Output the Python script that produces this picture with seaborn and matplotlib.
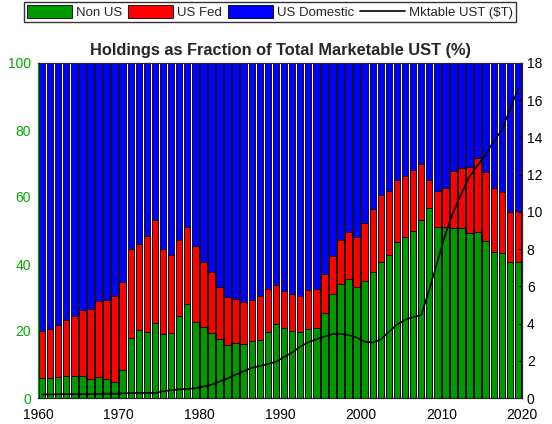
import numpy as np
import pandas as pd
import seaborn as sns
import matplotlib
matplotlib.use("Agg")
import matplotlib.pyplot as plt
from matplotlib.patches import Patch
from matplotlib.lines import Line2D

sns.set_style("white")
plt.rcParams["font.family"] = ["Liberation Sans", "DejaVu Sans"]

# =============================
# DADOS
# =============================
anos = list(range(1960, 2020))

non_us = [5.9, 5.9, 6.4, 6.6, 6.6, 6.6, 5.6, 6.3, 5.8, 4.8,
          8.5, 17.9, 20.2, 19.8, 22.4, 19.2, 19.4, 24.6, 28.0, 22.6,
          21.1, 19.3, 17.5, 15.8, 16.4, 16.0, 16.9, 17.4, 19.6, 22.0,
          20.9, 20.1, 19.6, 20.5, 20.8, 25.3, 31.0, 34.1, 35.5, 33.0,
          35.0, 37.5, 40.7, 42.8, 46.6, 48.1, 49.8, 53.2, 56.8, 51.0,
          51.0, 50.7, 50.7, 49.3, 49.6, 47.0, 43.5, 43.3, 40.6, 40.6]

us_fed = [14.2, 14.8, 15.3, 16.7, 17.8, 19.6, 21.0, 22.7, 23.5, 25.5,
          26.1, 26.5, 25.9, 28.6, 30.6, 25.4, 23.3, 22.7, 23.0, 22.7,
          19.6, 18.3, 15.6, 14.4, 13.1, 12.6, 12.4, 12.9, 12.8, 11.6,
          11.1, 11.0, 10.9, 11.6, 11.8, 11.7, 11.5, 13.0, 14.1, 15.0,
          17.3, 18.9, 19.9, 18.9, 18.4, 18.2, 18.4, 16.6, 8.4, 10.8,
          11.6, 17.0, 18.0, 19.7, 22.0, 20.4, 19.2, 18.3, 14.9, 15.2]

mktable_ust = [0.19, 0.19, 0.20, 0.21, 0.21, 0.21, 0.21, 0.21, 0.23, 0.23,
               0.25, 0.26, 0.27, 0.27, 0.27, 0.36, 0.42, 0.46, 0.49, 0.52,
               0.62, 0.72, 0.88, 1.05, 1.25, 1.44, 1.62, 1.72, 1.82, 1.95,
               2.20, 2.45, 2.75, 3.00, 3.15, 3.30, 3.43, 3.45, 3.38, 3.25,
               3.03, 2.98, 3.15, 3.55, 3.95, 4.20, 4.35, 4.45, 5.80, 7.30,
               8.80, 10.0, 11.0, 11.9, 12.5, 13.1, 13.8, 14.4, 15.5, 16.6]

df = pd.DataFrame({"ano": anos, "non_us": non_us, "us_fed": us_fed, "ust": mktable_ust})
df["us_dom"] = 100 - df["non_us"] - df["us_fed"]
df["x"] = df["ano"] + 0.5  # barra ocupa o ano inteiro
df["topo_fed"] = df["non_us"] + df["us_fed"]
df["topo_dom"] = df["topo_fed"] + df["us_dom"]

verde = "#009900"
vermelho = "#ff0000"
azul = "#0000ff"

# =============================
# PLOT
# =============================
fig = plt.figure(figsize=(5.52, 4.24), dpi=100)
ax = fig.add_axes([38 / 552, 26 / 424, 484 / 552, 335 / 424])

# barras empilhadas (sobrepostas, da maior para a menor)
for col, cor in [("topo_dom", azul), ("topo_fed", vermelho), ("non_us", verde)]:
    sns.barplot(data=df, x="x", y=col, native_scale=True, color=cor,
                saturation=1, width=0.8, edgecolor="black", linewidth=0.6, ax=ax)

ax.set_xlim(1960, 2020)
ax.set_ylim(0, 100)
ax.set_xticks(range(1960, 2021, 10))
ax.set_yticks(range(0, 101, 20))
ax.set_xlabel("")
ax.set_ylabel("")
ax.tick_params(axis="y", colors="#00aa00", direction="in", labelsize=10, length=3, pad=5)
ax.tick_params(axis="x", direction="in", labelsize=10, length=3, colors="black", pad=7)
ax.spines["left"].set_color("#00aa00")
for s in ax.spines.values():
    s.set_linewidth(0.8)

ax2 = ax.twinx()
sns.lineplot(data=df, x="x", y="ust", color="black", linewidth=1.2, ax=ax2)
ax2.set_ylim(0, 18)
ax2.set_yticks(range(0, 19, 2))
ax2.set_ylabel("")
ax2.tick_params(axis="y", direction="in", labelsize=10, length=3, colors="black")
ax2.spines["left"].set_color("#00aa00")
for s in ax2.spines.values():
    s.set_linewidth(0.8)

ax.set_title("Holdings as Fraction of Total Marketable UST (%)",
             fontsize=11.8, fontweight="bold", pad=6)

handles = [Patch(facecolor=verde, edgecolor="black", linewidth=0.6),
           Patch(facecolor=vermelho, edgecolor="black", linewidth=0.6),
           Patch(facecolor=azul, edgecolor="black", linewidth=0.6),
           Line2D([0], [0], color="black", linewidth=1.2)]
fig.legend(handles, ["Non US", "US Fed", "US Domestic", "Mktable UST ($T)"],
           loc="upper left", bbox_to_anchor=(24 / 552, 1 - 2 / 424), ncol=4,
           fontsize=9.5, frameon=True, fancybox=False, edgecolor="black",
           handlelength=3.4, handleheight=1.1, handletextpad=0.3,
           columnspacing=0.45, borderpad=0.25, borderaxespad=0)

fig.savefig("out.png", dpi=100)
